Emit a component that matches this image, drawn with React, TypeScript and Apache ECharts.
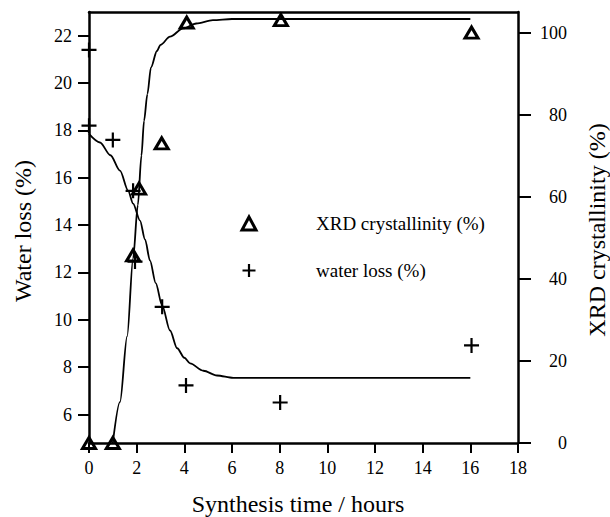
import React, { useEffect, useRef } from 'react';
import * as echarts from 'echarts';

// Axis tick values
const xTicks = [0, 2, 4, 6, 8, 10, 12, 14, 16, 18];
const waterTicks = [6, 8, 10, 12, 14, 16, 18, 20, 22];
const xrdTicks = [0, 20, 40, 60, 80, 100];

// XRD crystallinity measurements (right axis, %)
const xrdTime = [0, 1, 1.85, 2.1, 3.05, 4.1, 8.05, 16.05];
const xrdValue = [0, 0, 45.7, 62, 73, 102.4, 103, 100];

// Water loss measurements (left axis, %)
const waterTime = [0, 0, 1.0, 1.85, 1.93, 3.07, 4.07, 8.02, 16.05];
const waterValue = [21.4, 18.2, 17.6, 15.45, 12.46, 10.55, 7.23, 6.51, 8.92];

// Fitted curve: XRD crystallinity
const xrdFitTime = [1, 1.3, 1.6, 1.85, 2.05, 2.2, 2.31, 2.45, 2.6, 2.85, 3.0, 3.4, 3.95, 4.5, 5.2, 6, 16];
const xrdFitValue = [0, 10, 26, 45, 58, 70, 78.5, 85, 91.5, 95.5, 97, 99, 101, 102.2, 103, 103.3, 103.3];

// Fitted curve: water loss
const waterFitTime = [0, 0.46, 0.9, 1.3, 1.64, 1.85, 2.14, 2.35, 2.56, 2.8, 3.07, 3.4, 3.7, 4.0, 4.24, 4.8, 5.37, 6.05, 8, 12, 16];
const waterFitValue = [17.85, 17.49, 16.95, 16.3, 15.46, 14.91, 14.19, 13.4, 12.5, 11.55, 10.6, 9.55, 8.8, 8.4, 8.16, 7.85, 7.65, 7.55, 7.55, 7.55, 7.55];

const xrdName = 'XRD crystallinity (%)';
const waterName = 'water loss (%)';

const zip = (a: number[], b: number[]) => a.map((v, i) => [v, b[i]]);

export default function App() {
  const ref = useRef<HTMLDivElement>(null);
  useEffect(() => {
    const chart = echarts.init(ref.current!, undefined, { renderer: 'svg' });
    const font = "'Liberation Serif', 'Times New Roman', serif";
    const plusPath = 'path://M0,7 L14,7 M7,0 L7,14';
    const axisLine = { show: true, onZero: false, lineStyle: { color: '#000', width: 2.5 } };
    const tickStyle = { color: '#000', width: 2 };
    const labelStyle = { color: '#000', fontFamily: font, fontSize: 18 };
    const triStyle = { color: 'rgba(255,255,255,0)', borderColor: '#000', borderWidth: 3, opacity: 1 };
    const plusStyle = { color: 'rgba(255,255,255,0)', borderColor: '#000', borderWidth: 2.2, opacity: 1 };
    chart.setOption({
      animation: false,
      backgroundColor: '#fff',
      grid: { left: 89, right: 92, top: 12, bottom: 74 },
      xAxis: [
        {
          type: 'value', min: 0, max: 18, interval: 2,
          axisLine,
          axisTick: { show: true, length: 10, lineStyle: tickStyle, customValues: xTicks },
          axisLabel: { ...labelStyle, margin: 16, customValues: xTicks },
          splitLine: { show: false },
        },
        {
          type: 'value', position: 'top', min: 0, max: 18,
          axisLine,
          axisTick: { show: false },
          axisLabel: { show: false },
          splitLine: { show: false },
        },
      ],
      yAxis: [
        {
          type: 'value', min: 4.8, max: 23, position: 'left',
          axisLine,
          axisTick: { show: true, length: 11, lineStyle: tickStyle, customValues: waterTicks },
          axisLabel: { ...labelStyle, margin: 17, customValues: waterTicks },
          splitLine: { show: false },
        },
        {
          type: 'value', min: 0, max: 105, position: 'right',
          axisLine,
          axisTick: { show: true, length: 13, lineStyle: tickStyle, customValues: xrdTicks },
          axisLabel: { ...labelStyle, margin: 49, align: 'right', customValues: xrdTicks },
          splitLine: { show: false },
        },
      ],
      legend: {
        orient: 'vertical',
        left: 235.5,
        top: 209,
        itemWidth: 14,
        itemHeight: 13,
        itemGap: 28,
        textStyle: { color: '#000', fontFamily: font, fontSize: 19, padding: [0, 0, 0, 55] },
        data: [
          { name: xrdName, icon: 'triangle', itemStyle: triStyle },
          { name: waterName, icon: plusPath, itemStyle: plusStyle },
        ],
      },
      series: [
        {
          name: 'xrdFit', type: 'line', yAxisIndex: 1,
          data: zip(xrdFitTime, xrdFitValue),
          showSymbol: false, smooth: 0.3, smoothMonotone: 'x',
          lineStyle: { color: '#000', width: 1.8 },
          silent: true,
        },
        {
          name: 'waterFit', type: 'line', yAxisIndex: 0,
          data: zip(waterFitTime, waterFitValue),
          showSymbol: false, smooth: 0.3, smoothMonotone: 'x',
          lineStyle: { color: '#000', width: 1.8 },
          silent: true,
        },
        {
          name: xrdName, type: 'scatter', yAxisIndex: 1,
          data: zip(xrdTime, xrdValue),
          symbol: 'triangle', symbolSize: [13, 11],
          itemStyle: triStyle,
        },
        {
          name: waterName, type: 'scatter', yAxisIndex: 0,
          data: zip(waterTime, waterValue),
          symbol: plusPath, symbolSize: 15,
          itemStyle: plusStyle,
        },
      ],
      graphic: [
        {
          type: 'text', x: 23, y: 231, rotation: Math.PI / 2,
          style: { text: 'Water loss (%)', fill: '#000', fontFamily: font, fontSize: 24, align: 'center', verticalAlign: 'middle' },
        },
        {
          type: 'text', x: 298, y: 504,
          style: { text: 'Synthesis time / hours', fill: '#000', fontFamily: font, fontSize: 24, align: 'center', verticalAlign: 'middle' },
        },
        {
          type: 'text', x: 597, y: 230, rotation: Math.PI / 2,
          style: { text: 'XRD crystallinity (%)', fill: '#000', fontFamily: font, fontSize: 24, align: 'center', verticalAlign: 'middle' },
        },
      ],
    });
    return () => chart.dispose();
  }, []);
  return <div ref={ref} style={{ position: 'absolute', left: 0, top: 0, width: 610, height: 517 }} />;
}
